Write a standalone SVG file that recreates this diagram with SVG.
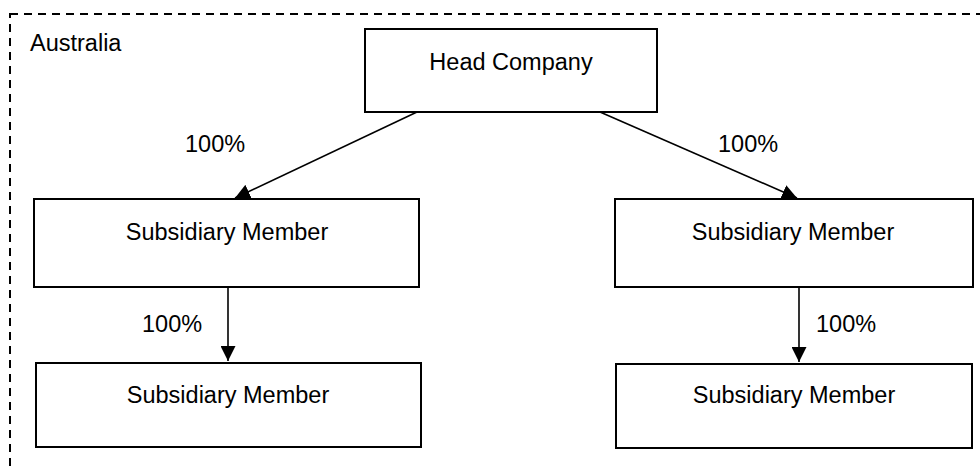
<svg xmlns="http://www.w3.org/2000/svg" width="980" height="468" viewBox="0 0 980 468">
<style>
text{font-family:"Liberation Sans",Arial,sans-serif;font-size:23.5px;fill:#000}
.box{fill:#fff;stroke:#000;stroke-width:2}
.c{text-anchor:middle}
.ln{stroke:#000;stroke-width:1.6;fill:none;marker-end:url(#ah)}
</style>
<defs>
<marker id="ah" viewBox="0 0 10 10" refX="10" refY="5" markerWidth="15" markerHeight="15" markerUnits="userSpaceOnUse" orient="auto">
<path d="M0,0 L10,5 L0,10 Z" fill="#000"/>
</marker>
</defs>
<g id="australia">
<rect x="10" y="14" width="1000" height="500" fill="none" stroke="#000" stroke-width="2" stroke-dasharray="8,6"/>
<text x="30" y="51">Australia</text>
</g>
<g id="connectors">
<line class="ln" x1="417" y1="112" x2="235" y2="198"/>
<line class="ln" x1="600" y1="112" x2="797" y2="198"/>
<line class="ln" x1="228" y1="287" x2="228" y2="361"/>
<line class="ln" x1="799" y1="287" x2="799" y2="362"/>
<text x="185" y="152">100%</text>
<text x="718" y="152">100%</text>
<text x="142" y="332">100%</text>
<text x="816" y="332">100%</text>
</g>
<g id="head">
<rect class="box" x="365" y="29" width="292" height="83"/>
<text class="c" x="511" y="70">Head Company</text>
</g>
<g id="sub-left">
<rect class="box" x="34" y="199" width="385" height="88"/>
<text class="c" x="227" y="240">Subsidiary Member</text>
</g>
<g id="sub-right">
<rect class="box" x="615" y="199" width="358" height="88"/>
<text class="c" x="793" y="240">Subsidiary Member</text>
</g>
<g id="sub-left-2">
<rect class="box" x="36" y="363" width="385" height="84"/>
<text class="c" x="228" y="403">Subsidiary Member</text>
</g>
<g id="sub-right-2">
<rect class="box" x="616" y="364" width="356" height="84"/>
<text class="c" x="794" y="403">Subsidiary Member</text>
</g>
</svg>
